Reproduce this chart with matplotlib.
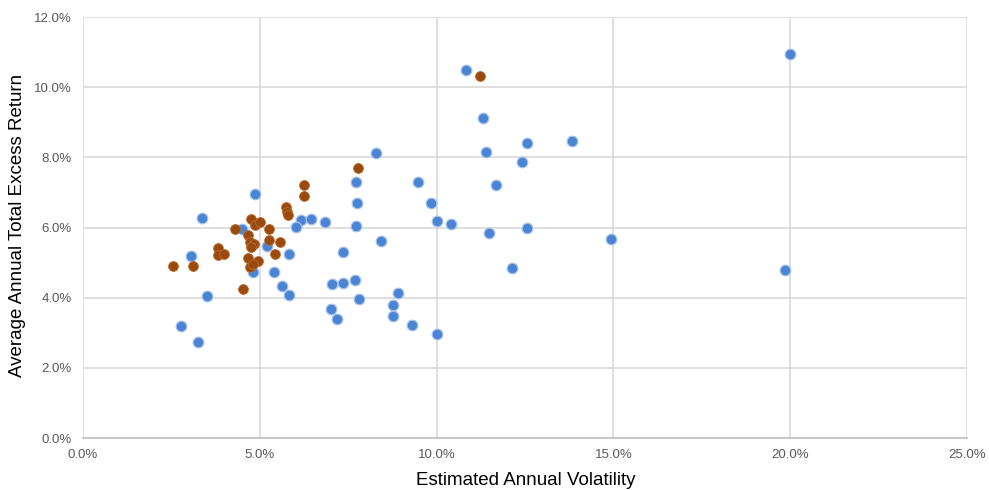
import numpy as np
import matplotlib.pyplot as plt
from matplotlib.ticker import FuncFormatter

# volatility (%) / excess return (%) - group 1 (blue)
vol_blue = [20.0, 10.83, 11.31, 12.56, 13.83, 11.40, 12.42, 11.68, 8.29, 9.47, 7.72, 7.75, 9.84,
            10.01, 10.41, 7.72, 12.56, 11.48, 14.93, 8.43, 7.35, 12.13, 19.85, 7.69, 7.35, 7.04,
            8.91, 7.81, 8.77, 7.01, 7.18, 8.77, 9.30, 10.01, 6.17, 6.45, 6.02, 6.84, 5.83, 5.63,
            5.83, 4.86, 3.37, 4.50, 5.20, 3.05, 4.81, 5.40, 3.51, 2.77, 3.25]
ret_blue = [10.94, 10.48, 9.12, 8.40, 8.46, 8.15, 7.86, 7.21, 8.12, 7.29, 7.29, 6.70, 6.70,
            6.18, 6.10, 6.04, 5.98, 5.84, 5.67, 5.61, 5.30, 4.84, 4.79, 4.50, 4.42, 4.39,
            4.13, 3.96, 3.79, 3.68, 3.39, 3.48, 3.22, 2.96, 6.21, 6.24, 6.01, 6.15, 5.24, 4.33,
            4.07, 6.95, 6.27, 5.95, 5.47, 5.19, 4.73, 4.73, 4.05, 3.19, 2.74]

# group 2 (brown)
vol_brown = [11.23, 7.78, 6.25, 6.25, 5.74, 5.77, 5.80, 5.57, 4.75, 4.86, 5.01, 4.30, 5.26, 4.67,
             5.26, 4.72, 4.84, 4.75, 3.82, 3.82, 3.99, 5.43, 2.55, 3.11, 4.67, 4.95, 4.72, 4.80,
             4.52]
ret_brown = [10.31, 7.69, 7.21, 6.89, 6.58, 6.44, 6.35, 5.58, 6.24, 6.07, 6.15, 5.95, 5.95, 5.78,
             5.64, 5.58, 5.53, 5.44, 5.41, 5.21, 5.24, 5.24, 4.90, 4.90, 5.13, 5.04, 4.87, 4.95,
             4.25]

x_ticks = [0, 5, 10, 15, 20, 25]
y_ticks = [0, 2, 4, 6, 8, 10, 12]

plt.rcParams['font.family'] = ['Liberation Sans', 'DejaVu Sans']

fig = plt.figure(figsize=(9.89, 4.90), dpi=100)
ax = fig.add_axes([0.0839, 0.1061, 0.8939, 0.8592])

ax.scatter(vol_blue, ret_blue, s=58, color='#4a84d4', edgecolors='#a3c0ea', linewidths=0.9, zorder=3)
ax.scatter(vol_brown, ret_brown, s=50, color='#9a4a0c', edgecolors='#b86d33', linewidths=0.6, zorder=4)

ax.set_xlim(0, 25)
ax.set_ylim(0, 12)
ax.set_xticks(x_ticks)
ax.set_yticks(y_ticks)
ax.xaxis.set_major_formatter(FuncFormatter(lambda v, p: f"{v:.1f}%"))
ax.yaxis.set_major_formatter(FuncFormatter(lambda v, p: f"{v:.1f}%"))
ax.grid(True, color='#d9d9d9', linewidth=1.2, zorder=0)
ax.set_axisbelow(True)
for s in ['top', 'right', 'left']:
    ax.spines[s].set_visible(False)
ax.spines['bottom'].set_color('#bfbfbf')
ax.spines['bottom'].set_linewidth(1.2)
ax.tick_params(length=0, labelsize=9.5, labelcolor='#595959', pad=8)

fig.text(18 / 989, 1 - 225 / 490, "Average Annual Total Excess Return", fontsize=13.5,
         rotation=90, ha='center', va='center')
fig.text(0.532, 1 - 480 / 490, "Estimated Annual Volatility", fontsize=13.5, ha='center', va='center')

fig.savefig("out.png", dpi=100)
